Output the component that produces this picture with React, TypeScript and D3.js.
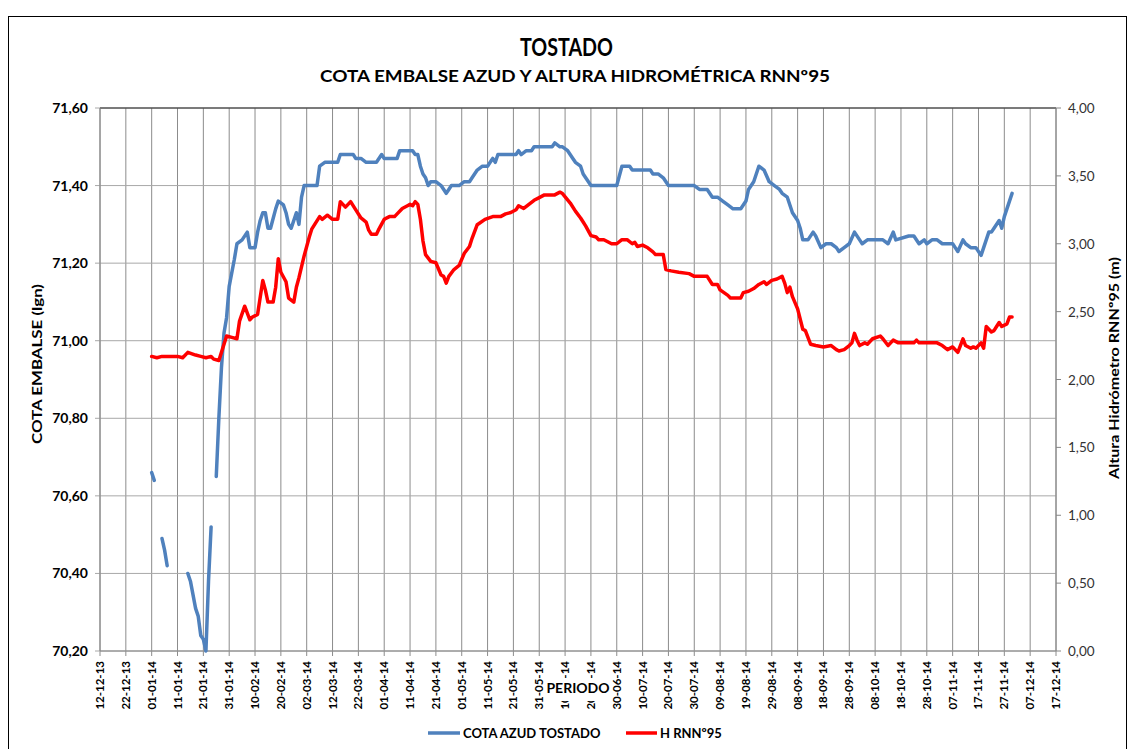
import React from "react";
import * as d3 from "d3";

// ---- DATA ----
const xTickLabels = ["12-12-13","22-12-13","01-01-14","11-01-14","21-01-14","31-01-14","10-02-14","20-02-14","02-03-14","12-03-14","22-03-14","01-04-14","11-04-14","21-04-14","01-05-14","11-05-14","21-05-14","31-05-14","10-06-14","20-06-14","30-06-14","10-07-14","20-07-14","30-07-14","09-08-14","19-08-14","29-08-14","08-09-14","18-09-14","28-09-14","08-10-14","18-10-14","28-10-14","07-11-14","17-11-14","27-11-14","07-12-14","17-12-14"];
const leftTicks = [70.2, 70.4, 70.6, 70.8, 71.0, 71.2, 71.4, 71.6];
const rightTicks = [0, 0.5, 1, 1.5, 2, 2.5, 3, 3.5, 4];

// day of year 2014 (1 = 01-01-14); null = gap in record
const cotaDays = [1,2,3,5,6,7,8,15,16,18,19,20,21,22,23,24,25,26,27,28,29,30,31,33,34,36,38,39,41,42,43,44,45,46,47,49,50,52,53,54,55,56,57,58,59,60,65,66,68,73,74,79,80,82,84,88,90,91,96,97,102,103,104,105,106,107,108,109,111,113,115,116,117,120,122,124,125,127,129,131,132,133,134,135,142,143,144,146,148,149,156,157,159,160,162,164,165,167,168,171,181,183,186,187,194,195,197,199,201,211,213,216,218,220,222,224,226,229,231,232,234,236,238,240,242,244,245,247,249,251,252,253,255,257,258,260,262,264,266,267,269,271,273,275,276,278,284,286,288,289,294,296,298,300,301,303,305,307,309,311,312,313,315,316,318,320,322,323,325,326,327,329,330,331,332,333,334];
const cotaVals = [70.66,70.64,null,70.49,70.46,70.42,null,70.40,70.38,70.31,70.29,70.24,70.23,70.20,70.38,70.52,null,70.65,70.80,70.93,71.02,71.06,71.14,71.21,71.25,71.26,71.28,71.24,71.24,71.28,71.31,71.33,71.33,71.29,71.29,71.34,71.36,71.35,71.33,71.30,71.29,71.31,71.33,71.30,71.37,71.40,71.40,71.45,71.46,71.46,71.48,71.48,71.47,71.47,71.46,71.46,71.48,71.47,71.47,71.49,71.49,71.48,71.48,71.45,71.43,71.42,71.40,71.41,71.41,71.40,71.38,71.39,71.40,71.40,71.41,71.41,71.42,71.44,71.45,71.45,71.46,71.47,71.46,71.48,71.48,71.49,71.48,71.49,71.49,71.50,71.50,71.51,71.50,71.50,71.49,71.47,71.46,71.45,71.43,71.40,71.40,71.45,71.45,71.44,71.44,71.43,71.43,71.42,71.40,71.40,71.39,71.39,71.37,71.37,71.36,71.35,71.34,71.34,71.36,71.39,71.41,71.45,71.44,71.41,71.40,71.39,71.38,71.37,71.33,71.31,71.29,71.26,71.26,71.28,71.27,71.24,71.25,71.25,71.24,71.23,71.24,71.25,71.28,71.26,71.25,71.26,71.26,71.25,71.28,71.26,71.27,71.27,71.25,71.26,71.25,71.26,71.26,71.25,71.25,71.25,71.24,71.23,71.26,71.25,71.24,71.24,71.22,71.24,71.28,71.28,71.29,71.31,71.29,71.32,71.34,71.36,71.38];

const hDays = [1,3,5,11,13,15,18,20,22,24,25,27,28,30,32,34,35,37,39,40,42,44,45,46,48,49,50,51,53,54,56,57,58,60,62,63,66,67,69,71,73,74,76,78,80,82,84,85,86,88,89,91,93,95,96,98,100,101,102,103,104,105,106,107,109,111,113,114,115,116,118,120,122,124,125,127,130,133,135,136,138,140,142,143,145,147,149,151,153,157,159,160,163,165,167,168,169,171,173,174,176,179,181,183,185,187,188,189,191,193,195,196,199,200,202,205,209,211,216,218,220,221,224,225,229,230,232,234,236,238,239,241,243,245,246,247,248,249,251,253,254,256,258,261,264,266,267,269,271,272,273,274,275,277,278,280,283,284,286,288,290,296,297,298,305,307,309,311,313,315,316,318,319,320,322,323,324,326,327,328,329,330,332,333,334];
const hVals = [2.17,2.16,2.17,2.17,2.16,2.20,2.18,2.17,2.16,2.17,2.15,2.14,2.20,2.32,2.31,2.30,2.43,2.54,2.44,2.46,2.48,2.73,2.66,2.57,2.57,2.68,2.89,2.79,2.72,2.60,2.57,2.68,2.75,2.91,3.05,3.11,3.20,3.18,3.21,3.18,3.18,3.31,3.27,3.31,3.25,3.19,3.16,3.10,3.07,3.07,3.11,3.18,3.20,3.20,3.22,3.26,3.28,3.29,3.28,3.31,3.29,3.18,3.02,2.92,2.87,2.86,2.77,2.76,2.71,2.76,2.81,2.84,2.93,2.98,3.04,3.14,3.18,3.20,3.20,3.20,3.22,3.23,3.25,3.28,3.26,3.29,3.32,3.34,3.36,3.36,3.38,3.37,3.30,3.24,3.19,3.16,3.13,3.06,3.05,3.03,3.03,3.00,3.00,3.03,3.03,3.00,3.01,2.98,2.99,2.97,2.94,2.92,2.92,2.81,2.80,2.79,2.78,2.76,2.76,2.70,2.70,2.66,2.62,2.60,2.60,2.64,2.65,2.67,2.70,2.72,2.70,2.73,2.74,2.76,2.71,2.64,2.68,2.61,2.52,2.37,2.36,2.26,2.25,2.24,2.25,2.22,2.21,2.22,2.25,2.27,2.34,2.29,2.25,2.27,2.26,2.30,2.32,2.30,2.25,2.29,2.27,2.27,2.29,2.27,2.27,2.25,2.22,2.24,2.20,2.30,2.25,2.23,2.24,2.23,2.27,2.23,2.39,2.35,2.36,2.39,2.42,2.39,2.41,2.46,2.46];

const FONT = "Lato, 'Liberation Sans', sans-serif";
const W = 1129, H = 749;
const plot = { left: 100, right: 1056, top: 108, bottom: 651 };

export default function App() {
  const parse = d3.timeParse("%d-%m-%y");
  const tickDates = xTickLabels.map((s) => parse(s) as Date);
  const x = d3.scaleTime().domain([tickDates[0], tickDates[tickDates.length - 1]]).range([plot.left, plot.right]);
  const yL = d3.scaleLinear().domain([70.2, 71.6]).range([plot.bottom, plot.top]);
  const yR = d3.scaleLinear().domain([0, 4]).range([plot.bottom, plot.top]);
  const dayToDate = (d: number) => new Date(2014, 0, d);
  const fmt = (v: number) => d3.format(".2f")(v).replace(".", ",");

  const cota = cotaDays.map((d, i) => ({ d: dayToDate(d), v: cotaVals[i] }));
  const hrnn = hDays.map((d, i) => ({ d: dayToDate(d), v: hVals[i] }));
  const lineL = d3.line<{ d: Date; v: number | null }>().defined((p) => p.v != null).x((p) => x(p.d)).y((p) => yL(p.v as number));
  const lineR = d3.line<{ d: Date; v: number | null }>().defined((p) => p.v != null).x((p) => x(p.d)).y((p) => yR(p.v as number));

  return (
    <svg width={W} height={H} style={{ position: "absolute", left: 0, top: 0, background: "#fff" }} fontFamily={FONT}>
      <defs>
        <clipPath id="pa"><rect x={plot.left} y={plot.top - 2} width={plot.right - plot.left} height={plot.bottom - plot.top + 4} /></clipPath>
      </defs>
      <rect x={0} y={0} width={W} height={H} fill="#fff" />
      <rect x={8.5} y={16.5} width={1118} height={760} fill="none" stroke="#000" strokeWidth={1} />

      <text x={520} y={56} fontWeight="bold" fontSize={25} fill="#000" textLength={93} lengthAdjust="spacingAndGlyphs">TOSTADO</text>
      <text x={320} y={82} fontWeight="bold" fontSize={17} fill="#000" textLength={510} lengthAdjust="spacingAndGlyphs">COTA EMBALSE AZUD Y ALTURA HIDROMÉTRICA RNNº95</text>

      {/* vertical grid */}
      {tickDates.map((d, i) => (
        <line key={"vg" + i} x1={x(d)} x2={x(d)} y1={plot.top} y2={plot.bottom + 5} stroke="#8c8c8c" strokeWidth={1} />
      ))}
      {/* horizontal grid */}
      {leftTicks.map((t, i) => (
        <line key={"hg" + i} x1={plot.left - 5} x2={plot.right} y1={yL(t)} y2={yL(t)} stroke="#a8a8a8" strokeWidth={1} />
      ))}
      <line x1={plot.left} x2={plot.right} y1={plot.top} y2={plot.top} stroke="#222" strokeWidth={1} />
      <line x1={plot.left} x2={plot.left} y1={plot.top} y2={plot.bottom} stroke="#868686" strokeWidth={1} />
      <line x1={plot.left} x2={plot.right} y1={plot.bottom} y2={plot.bottom} stroke="#868686" strokeWidth={1} />
      <line x1={plot.right} x2={plot.right} y1={plot.top} y2={plot.bottom} stroke="#868686" strokeWidth={1} />
      {rightTicks.map((t, i) => (
        <line key={"rt" + i} x1={plot.right} x2={plot.right + 5} y1={yR(t)} y2={yR(t)} stroke="#868686" strokeWidth={1} />
      ))}

      {/* left tick labels */}
      {leftTicks.map((t, i) => (
        <text key={"lt" + i} x={88} y={yL(t) + 5} textAnchor="end" fontWeight="bold" fontSize={14} fill="#000">{fmt(t)}</text>
      ))}
      {/* right tick labels */}
      {rightTicks.map((t, i) => (
        <text key={"rl" + i} x={1068} y={yR(t) + 5} textAnchor="start" fontSize={13.5} fill="#333">{fmt(t)}</text>
      ))}

      {/* x tick labels */}
      {tickDates.map((d, i) => (
        <text key={"xl" + i} transform={`translate(${x(d) + 4},${661}) rotate(-90)`} textAnchor="end" fontWeight="bold" fontSize={11.5} fill="#000">{xTickLabels[i]}</text>
      ))}

      {/* axis titles */}
      <text transform={`translate(42,${364}) rotate(-90)`} textAnchor="middle" fontWeight="bold" fontSize={13} fill="#000" textLength={160} lengthAdjust="spacingAndGlyphs">COTA EMBALSE (lgn)</text>
      <text transform={`translate(1119,${368}) rotate(-90)`} textAnchor="middle" fontWeight="bold" fontSize={13} fill="#000" textLength={222} lengthAdjust="spacingAndGlyphs">Altura Hidrómetro RNNº95 (m)</text>
      <rect x={547} y={678} width={62} height={23} fill="#fff" />
      <text x={578} y={693} textAnchor="middle" fontWeight="bold" fontSize={14} fill="#000">PERIODO</text>

      {/* series */}
      <g clipPath="url(#pa)">
        <path d={lineL(cota) || ""} fill="none" stroke="#4F81BD" strokeWidth={3.5} strokeLinejoin="round" strokeLinecap="round" />
        <path d={lineR(hrnn) || ""} fill="none" stroke="#FF0000" strokeWidth={3.5} strokeLinejoin="round" strokeLinecap="round" />
      </g>

      {/* legend */}
      <line x1={428} x2={460} y1={733} y2={733} stroke="#4F81BD" strokeWidth={3.5} />
      <text x={463} y={738} fontWeight="bold" fontSize={13} fill="#000">COTA AZUD TOSTADO</text>
      <line x1={626} x2={657} y1={733} y2={733} stroke="#FF0000" strokeWidth={3.5} />
      <text x={660} y={738} fontWeight="bold" fontSize={13} fill="#000">H RNNº95</text>
    </svg>
  );
}
